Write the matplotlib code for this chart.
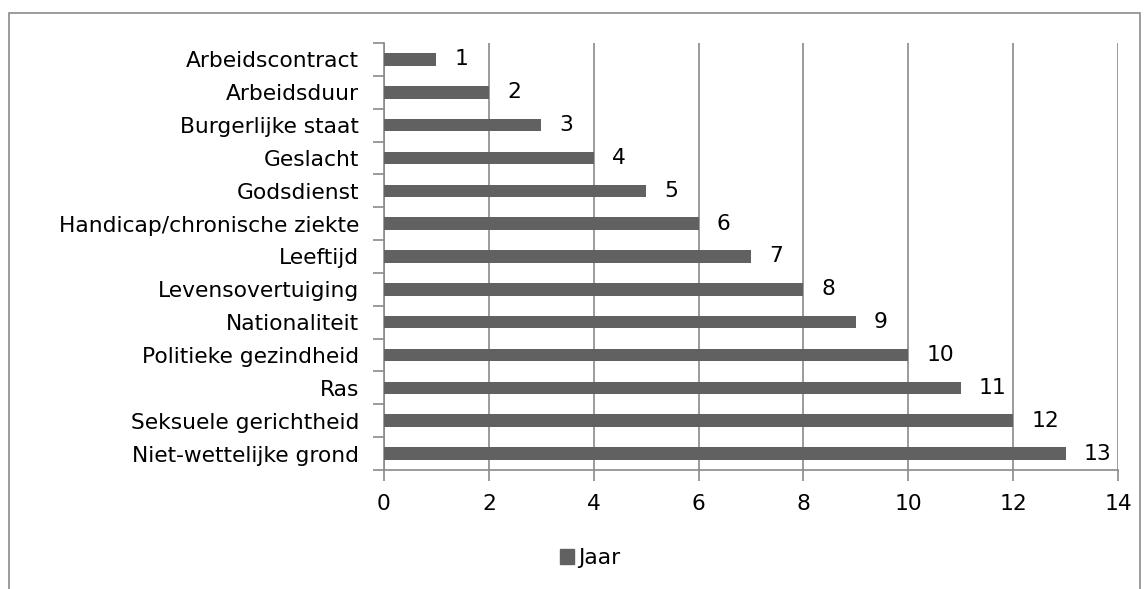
import matplotlib
matplotlib.use("Agg")
import matplotlib.pyplot as plt
from matplotlib.patches import Rectangle, Patch

categories = ["Arbeidscontract", "Arbeidsduur", "Burgerlijke staat", "Geslacht",
              "Godsdienst", "Handicap/chronische ziekte", "Leeftijd",
              "Levensovertuiging", "Nationaliteit", "Politieke gezindheid",
              "Ras", "Seksuele gerichtheid", "Niet-wettelijke grond"]
values = [1, 2, 3, 4, 5, 6, 7, 8, 9, 10, 11, 12, 13]
series_name = "Jaar"
xticks = [0, 2, 4, 6, 8, 10, 12, 14]

plt.rcParams['font.family'] = ['DejaVu Sans']
bar_color = "#616161"
grid_color = "#8a8a8a"
fs = 15.7

fig = plt.figure(figsize=(11.47, 5.89), dpi=100)
ax = fig.add_axes([384/1147, 1-470/589, (1118-384)/1147, (470-43)/589])

n = len(categories)
ypos = list(range(n))
ax.barh(ypos, values, height=0.38, color=bar_color, zorder=3)
ax.set_ylim(n - 0.5, -0.5)
ax.set_xlim(0, 14)
ax.set_xticks(xticks)
ax.set_xticklabels([str(t) for t in xticks], fontsize=fs)
ax.set_yticks(ypos)
ax.set_yticklabels(categories, fontsize=fs)
ax.set_yticks([i - 0.5 for i in range(n + 1)], minor=True)
ax.tick_params(axis='y', which='major', length=0, pad=18)
ax.tick_params(axis='y', which='minor', length=8, color=grid_color, width=1.2)
ax.tick_params(axis='x', length=8, color=grid_color, width=1.2, pad=9)
ax.xaxis.grid(True, color=grid_color, linewidth=1.2, zorder=0)
for s in ['top', 'right']:
    ax.spines[s].set_visible(False)
for s in ['left', 'bottom']:
    ax.spines[s].set_color(grid_color)
    ax.spines[s].set_linewidth(1.2)

for y, v in zip(ypos, values):
    ax.annotate(str(v), (v, y), xytext=(13, 0), textcoords='offset points',
                va='center', ha='left', fontsize=fs)

handle = Patch(color=bar_color, label=series_name)
fig.legend(handles=[handle], loc='center', bbox_to_anchor=(590/1147, 1-558/589),
           frameon=False, fontsize=fs, handlelength=0.65, handleheight=0.65,
           handletextpad=0.15)

fig.patches.append(Rectangle((9/1147, -0.02), (1140-9)/1147, 1.02-13/589,
                             transform=fig.transFigure, fill=False,
                             edgecolor="#8a8a8a", linewidth=1.2))

fig.savefig("out.png", dpi=100)
